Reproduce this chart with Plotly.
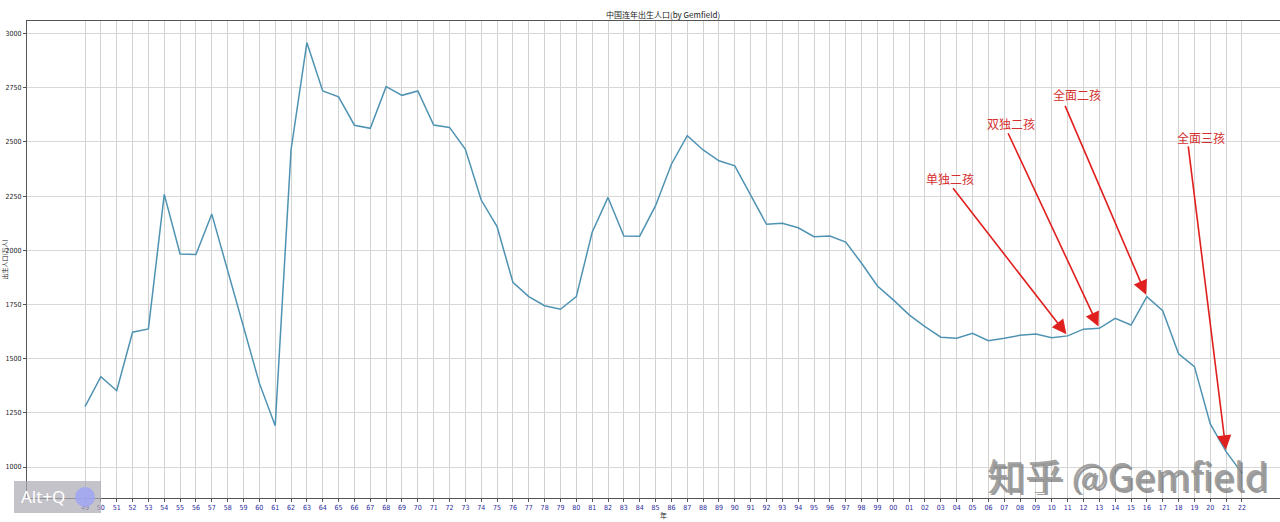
import plotly.graph_objects as go

years = list(range(1949, 2023))
births = [
    1279, 1417, 1352, 1622, 1637, 2258, 1983, 1981, 2167, 1905,
    1648, 1387, 1190, 2463, 2958, 2735, 2708, 2577, 2563, 2755,
    2715, 2735, 2578, 2567, 2466, 2232, 2109, 1852, 1786, 1744,
    1728, 1786, 2083, 2244, 2066, 2065, 2206, 2397, 2529, 2463,
    2413, 2390, 2255, 2120, 2125, 2104, 2063, 2066, 2038, 1940,
    1835, 1771, 1702, 1648, 1599, 1594, 1617, 1583, 1594, 1608,
    1614, 1597, 1605, 1636, 1640, 1686, 1655, 1786, 1721, 1522,
    1463, 1199, 1071, 972,
]
tick_labels = [f"{y % 100:02d}" for y in years]
y_ticks = [1000, 1250, 1500, 1750, 2000, 2250, 2500, 2750, 3000]

# policy annotations: label, year pointed at, label position (year, value)
policy_labels = ["单独二孩", "双独二孩", "全面二孩", "全面三孩"]
policy_years = [2011, 2013, 2016, 2021]
label_x = [2003.6, 2007.4, 2011.6, 2019.4]
label_y = [2329, 2586, 2720, 2521]
tail_x = [2003.7, 2007.2, 2010.8, 2018.6]
tail_y = [2293, 2547, 2673, 2486]

L, R, T, B = 27, 0, 21, 24
W, H = 1280, 522
PW, PH = W - L - R, H - T - B


def px(x):
    return (x - L) / PW


def py(y):
    return (H - B - y) / PH


fig = go.Figure()
fig.add_trace(go.Scatter(
    x=years, y=births, mode="lines",
    line=dict(color="#4f93b3", width=1.5),
    hoverinfo="x+y", showlegend=False,
))

annotations = []
for lab, yr, lx, ly, tx, ty in zip(policy_labels, policy_years, label_x, label_y, tail_x, tail_y):
    val = births[years.index(yr)]
    annotations.append(dict(
        x=yr, y=val, xref="x", yref="y", ax=tx, ay=ty, axref="x", ayref="y",
        text="", showarrow=True, arrowhead=2, arrowsize=1.8, arrowwidth=1.6,
        arrowcolor="#e0201e", standoff=2,
    ))
    annotations.append(dict(
        x=lx, y=ly, xref="x", yref="y", text=lab, showarrow=False,
        font=dict(family="Noto Sans CJK SC", size=12, color="#d43030"),
        xanchor="center", yanchor="middle",
    ))

annotations.append(dict(
    x=px(663), y=py(14), xref="paper", yref="paper", text="中国连年出生人口(by Gemfield)",
    showarrow=False, font=dict(family="Noto Sans CJK SC", size=8, color="#222"),
    xanchor="center", yanchor="middle",
))
annotations.append(dict(
    x=px(663), y=py(515), xref="paper", yref="paper", text="年",
    showarrow=False, font=dict(family="Noto Sans CJK SC", size=7, color="#222"),
    xanchor="center", yanchor="middle",
))
annotations.append(dict(
    x=px(4), y=0.5, xref="paper", yref="paper", text="出生人口(万人)",
    showarrow=False, textangle=-90, font=dict(family="Noto Sans CJK SC", size=6, color="#222"),
    xanchor="center", yanchor="middle",
))
# watermark
annotations.append(dict(
    x=px(1129), y=py(476), xref="paper", yref="paper", text="知乎 @Gemfield",
    showarrow=False, font=dict(family="Noto Sans CJK SC", size=38, color="rgba(60,60,60,0.5)"),
    xanchor="center", yanchor="middle", height=38, valign="middle",
))
annotations.append(dict(
    x=px(1127), y=py(474), xref="paper", yref="paper", text="知乎 @Gemfield",
    showarrow=False, font=dict(family="Noto Sans CJK SC", size=38, color="rgba(150,150,150,0.9)"),
    xanchor="center", yanchor="middle", height=38, valign="middle",
))
# screenshot badge
annotations.append(dict(
    x=px(43), y=py(496), xref="paper", yref="paper", text="Alt+Q",
    showarrow=False, font=dict(family="Noto Sans", size=17, color="white"),
    xanchor="center", yanchor="middle",
))

shapes = [
    dict(type="rect", xref="paper", yref="paper",
         x0=px(14), x1=px(101), y0=py(513), y1=py(481),
         fillcolor="rgba(170,170,178,0.7)", line=dict(width=0), layer="above"),
    dict(type="circle", xref="paper", yref="paper",
         x0=px(75), x1=px(95), y0=py(507), y1=py(487),
         fillcolor="rgba(160,165,245,0.85)", line=dict(width=0), layer="above"),
]

fig.update_layout(
    width=W, height=H,
    margin=dict(l=L, r=R, t=T, b=B, autoexpand=False),
    paper_bgcolor="white", plot_bgcolor="white",
    font=dict(family="DejaVu Sans", size=7, color="#222"),
    annotations=annotations, shapes=shapes,
    showlegend=False,
)
fig.update_xaxes(
    range=[1945.34, 2024.4], tickvals=years, ticktext=tick_labels,
    tickfont=dict(family="DejaVu Sans Condensed, DejaVu Sans", size=7, color="#2a2a9a"),
    showgrid=True, gridcolor="#d2d2d2", gridwidth=1,
    showline=True, linecolor="#555", linewidth=1, mirror=True,
    ticks="outside", ticklen=3, tickcolor="#555", zeroline=False,
    automargin=False,
)
fig.update_yaxes(
    range=[857, 3058], tickvals=y_ticks,
    tickfont=dict(family="DejaVu Sans Condensed, DejaVu Sans", size=7, color="#222"),
    showgrid=True, gridcolor="#d8d8d8", gridwidth=1,
    showline=True, linecolor="#555", linewidth=1, mirror=False,
    ticks="outside", ticklen=3, tickcolor="#555", zeroline=False,
    automargin=False,
)

fig.write_html(
    "out.html",
    config={"displayModeBar": False},
    post_script="document.body.style.margin='0';document.body.style.overflow='hidden';",
)
